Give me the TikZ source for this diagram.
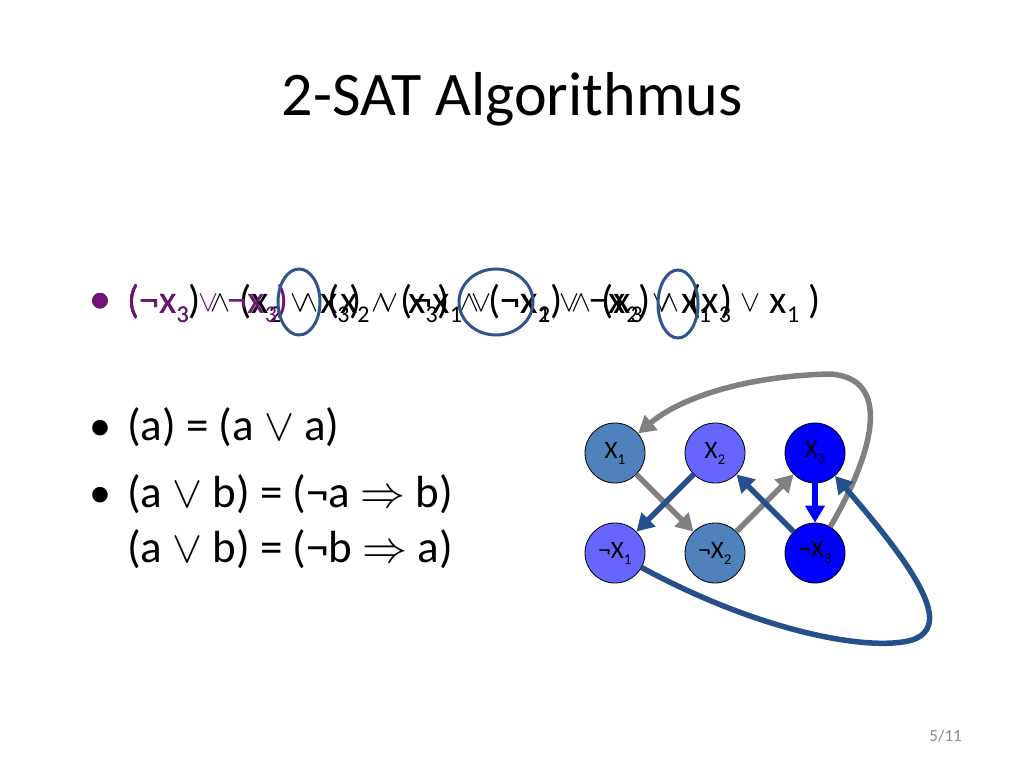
\RequirePackage{fix-cm}
\documentclass[tikz,border=0pt]{standalone}
\usepackage{fontspec}
\setmainfont{Carlito}
\usetikzlibrary{arrows.meta}
\definecolor{steel}{RGB}{79,129,189}
\definecolor{peri}{RGB}{102,102,255}
\definecolor{pureblue}{RGB}{0,0,255}
\definecolor{darkarr}{RGB}{38,80,140}
\definecolor{grayarr}{RGB}{128,128,128}
\definecolor{ellcol}{RGB}{47,85,140}
\definecolor{purp}{RGB}{112,20,120}
\definecolor{pagegray}{RGB}{137,137,137}
\newcommand{\subx}[1]{\raisebox{-0.24em}{\scalebox{0.6}{#1}}}
\newcommand{\fop}[1]{\hbox to 0.97em{\hss\raisebox{0.05em}{\scalebox{0.75}{$#1$}}\hss}}
\begin{document}
\begin{tikzpicture}[x=1pt,y=-1pt,
  vnode/.style={circle,draw=black,line width=0.8pt,minimum size=60pt,inner sep=0pt,font=\fontsize{25}{30}\selectfont},
  ftxt/.style={anchor=base west,inner sep=0pt,font=\fontsize{40}{48}\selectfont},
  txt/.style={anchor=base west,inner sep=0pt,font=\fontsize{45}{54}\selectfont},
  bul/.style={anchor=base west,inner sep=0pt,font=\fontsize{44}{52}\selectfont},
  arr/.style={line width=5.5pt,-{Triangle[length=17pt,width=19pt]}},
  garr/.style={arr,draw=grayarr},
  darr/.style={arr,draw=darkarr},
  barr/.style={arr,draw=pureblue},
  ellst/.style={draw=ellcol,line width=3pt}
]
\useasboundingbox (0,0) rectangle (1024,768);
\fill[white] (0,0) rectangle (1024,768);

% title
\node[anchor=base,inner sep=0pt,font=\fontsize{62}{74}\selectfont] (title) at (512,115) {2-SAT Algorithmus};

% overlapped formula (two states)
\node[bul] (b0b) at (89,313) {•};
\node[bul,text=purp] (b0a) at (89,313) {•};
\node[ftxt] (fA) at (127,313) {(¬x\subx{3})\fop{\wedge}(x\subx{2}\fop{\vee}x\subx{3})\fop{\wedge}(¬x\subx{1}\fop{\vee}¬x\subx{2})\fop{\wedge}(x\subx{3}\fop{\vee}x\subx{1} )};
\node[ftxt] (fB) at (127,313) {\textcolor{purp}{(¬x\subx{3}\fop{\vee}¬x\subx{3})}\fop{\wedge}(x\subx{2}\fop{\vee}x\subx{3})\fop{\wedge}(¬x\subx{1}\fop{\vee}¬x\subx{2})\fop{\wedge}(x\subx{3}\fop{\vee}x\subx{1} )};

\draw[ellst] (299,302) ellipse [x radius=21, y radius=33];
\draw[ellst] (496,302) ellipse [x radius=37, y radius=33];
\draw[ellst] (678,304) ellipse [x radius=20, y radius=34];

% bullets
\node[bul] (b1) at (89,440) {•};
\node[txt] (t1) at (127,440) {(a) = (a $\vee$ a)};
\node[bul] (b2) at (89,507) {•};
\node[txt] (t2) at (127,507) {(a $\vee$ b) = (¬a $\Rightarrow$ b)};
\node[txt] (t3) at (127,562) {(a $\vee$ b) = (¬b $\Rightarrow$ a)};

% graph nodes
\node[vnode,fill=steel] (x1) at (615,453) {X\subx{1}};
\node[vnode,fill=peri] (x2) at (715,453) {X\subx{2}};
\node[vnode,fill=pureblue] (x3) at (815,453) {X\subx{3}};
\node[vnode,fill=peri] (nx1) at (615,553) {¬X\subx{1}};
\node[vnode,fill=steel] (nx2) at (715,553) {¬X\subx{2}};
\node[vnode,fill=pureblue] (nx3) at (815,553) {¬X\subx{3}};

% edges
\draw[garr] (x1) -- (nx2);
\draw[garr] (nx2) -- (x3);
\draw[garr] (nx3) .. controls (875,450) and (892,378) .. (830,374) .. controls (745,376) and (680,398) .. (x1);
\draw[darr] (x2) -- (nx1);
\draw[darr] (nx3) -- (x2);
\draw[barr] (x3) -- (nx3);
\draw[darr] (nx1) .. controls (760,632) and (870,652) .. (912,640) .. controls (948,628) and (930,585) .. (x3);

% page number
\node[anchor=base east,inner sep=0pt,text=pagegray,font=\fontsize{17}{20}\selectfont] (pg) at (962,741) {5/11};
\end{tikzpicture}
\end{document}
